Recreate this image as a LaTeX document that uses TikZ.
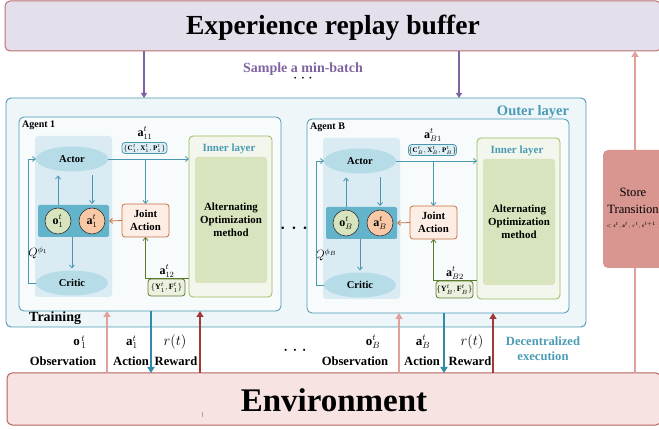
\documentclass[tikz,border=0pt]{standalone}
\usepackage{fontspec}
\setmainfont{Liberation Serif}
\usetikzlibrary{arrows.meta,calc,shapes.geometric}
\definecolor{bufFill}{HTML}{E5DFEC}
\definecolor{bufDraw}{HTML}{B87270}
\definecolor{purp}{HTML}{8064A2}
\definecolor{outerFill}{HTML}{EEF6FA}
\definecolor{tealc}{HTML}{4A98B0}
\definecolor{tealtxt}{HTML}{4A9BB5}
\definecolor{agentFill}{HTML}{F7FBFC}
\definecolor{panelFill}{HTML}{DAEBF3}
\definecolor{ellFill}{HTML}{B5DCE7}
\definecolor{rowFill}{HTML}{63B3CB}
\definecolor{oFill}{HTML}{D7E4BD}
\definecolor{aFill}{HTML}{F9C9A7}
\definecolor{jointFill}{HTML}{FCEDE5}
\definecolor{jointDraw}{HTML}{C8703C}
\definecolor{innerDraw}{HTML}{9BBB59}
\definecolor{innerFill}{HTML}{F2F6EC}
\definecolor{greenFill}{HTML}{D7E4BD}
\definecolor{cboxFill}{HTML}{DDEFF5}
\definecolor{yDraw}{HTML}{5C7A2E}
\definecolor{yFill}{HTML}{EBF1DE}
\definecolor{envFill}{HTML}{F6E3E2}
\definecolor{envDraw}{HTML}{B8605E}
\definecolor{obsc}{HTML}{E0A09B}
\definecolor{actc}{HTML}{2F8BA6}
\definecolor{rewc}{HTML}{A33A3A}
\definecolor{storeFill}{HTML}{D9958F}
\newcommand{\myfs}[1]{\fontsize{#1}{#1}\selectfont}
\tikzset{
 bx/.style={inner sep=0pt, outer sep=0pt},
 buf/.style={bx, draw=bufDraw, fill=bufFill, line width=1pt, rounded corners=5pt, minimum width=656pt, minimum height=50pt},
 envbox/.style={bx, draw=envDraw, fill=envFill, line width=1pt, rounded corners=5pt, minimum width=654pt, minimum height=52pt},
 outerbox/.style={bx, draw=tealc, fill=outerFill, line width=0.9pt, rounded corners=5pt, minimum width=580pt, minimum height=229pt},
 agentbox/.style={bx, draw=tealc, fill=agentFill, line width=0.8pt, rounded corners=5pt, minimum width=262pt, minimum height=194pt},
 panel/.style={bx, fill=panelFill, rounded corners=3pt, minimum width=77pt, minimum height=161pt},
 ellbox/.style={ellipse, fill=ellFill, minimum width=72pt, minimum height=25pt, inner sep=0pt, outer sep=0pt, font=\bfseries\myfs{10.5}},
 rowbox/.style={bx, fill=rowFill, rounded corners=2pt, minimum width=71pt, minimum height=32pt},
 circ/.style={circle, draw=black!80, line width=0.6pt, minimum size=26pt, inner sep=0pt, font=\myfs{12}},
 joint/.style={bx, draw=jointDraw, fill=jointFill, line width=0.8pt, rounded corners=3pt, minimum width=47pt, minimum height=33pt, align=center, font=\bfseries\fontsize{10.8}{13}\selectfont},
 innerbox/.style={bx, draw=innerDraw, fill=innerFill, line width=0.8pt, rounded corners=4pt, minimum width=83pt, minimum height=161pt},
 greenbox/.style={bx, fill=greenFill, rounded corners=3pt, minimum width=72pt, minimum height=126pt, align=center, font=\bfseries\fontsize{10.9}{13}\selectfont},
 cbox/.style={bx, draw=tealc, fill=cboxFill, line width=0.8pt, rounded corners=3pt, minimum width=45pt, minimum height=11pt, font=\myfs{7}},
 ybox/.style={bx, draw=yDraw, fill=yFill, line width=0.8pt, rounded corners=3pt, minimum width=37pt, minimum height=17pt, font=\myfs{8}},
 storebox/.style={bx, fill=storeFill, rounded corners=5pt, minimum width=68pt, minimum height=118pt},
 tealtext/.style={text=tealtxt, inner sep=0pt, font=\bfseries\myfs{11}},
 lab/.style={inner sep=0pt, font=\myfs{12}},
 blab/.style={inner sep=0pt, font=\bfseries\myfs{12.6}},
 tarr/.style={draw=tealc, line width=0.8pt, -{Straight Barb[length=3pt,width=5pt]}},
 jarr/.style={draw=jointDraw, line width=0.8pt, -{Straight Barb[length=3pt,width=5pt]}},
 yarr/.style={draw=yDraw, line width=0.8pt, -{Straight Barb[length=3pt,width=5pt]}},
 parr/.style={draw=purp, line width=1.6pt, -{Triangle[length=5pt,width=6pt]}},
 obsarr/.style={draw=obsc, line width=2pt, -{Triangle[length=6pt,width=7pt]}},
 actarr/.style={draw=actc, line width=2.3pt, -{Triangle[length=6pt,width=7pt]}},
 rewarr/.style={draw=rewc, line width=2.3pt, -{Triangle[length=6pt,width=7pt]}},
 storearr/.style={draw=obsc, line width=1.8pt, -{Triangle[length=6pt,width=7pt]}},
}
\newcommand{\myagent}[4]{%
\begin{scope}[shift={(#2,#3)}]
\node[agentbox] (#1box) at (150,214) {};
\node[anchor=west, inner sep=0pt, font=\bfseries\myfs{10}] (#1title) at (22,125) {Agent #4};
\node[panel] (#1panel) at (73.5,216.5) {};
\node[ellbox] (#1actor) at (72,159) {Actor};
\node[ellbox] (#1critic) at (72,283) {Critic};
\node[rowbox] (#1row) at (73.5,221) {};
\node[circ, fill=oFill] (#1o) at (58,221) {$\mathbf{o}^t_{#4}$};
\node[circ, fill=aFill] (#1a) at (92,221) {$\mathbf{a}^t_{#4}$};
\node[joint] (#1joint) at (145.5,220.5) {Joint\\Action};
\node[innerbox] (#1inner) at (230.5,216.5) {};
\node[tealtext] (#1innerlab) at (229,149) {Inner layer};
\node[greenbox] (#1alt) at (231,220) {Alternating\\Optimization\\method};
\node[lab] (#1a11) at (145,133) {$\mathbf{a}^t_{#41}$};
\node[cbox] (#1cb) at (144.5,148) {$\{\mathbf{C}^t_{#4},\mathbf{X}^t_{#4},\mathbf{P}^t_{#4}\}$};
\node[lab] (#1a12) at (167,271) {$\mathbf{a}^t_{#42}$};
\node[ybox] (#1yb) at (166.5,287.5) {$\{\mathbf{Y}^t_{#4},\mathbf{F}^t_{#4}\}$};
\node[lab] (#1q) at (38,253) {$Q^{\phi_{#4}}$};
\coordinate (#1a12s) at (189,278);
\draw[tarr] (#1actor.east) -- (#1actor.east -| #1inner.west);
\draw[tarr] (#1joint.north |- #1actor.east) -- (#1joint.north);
\draw[yarr] (#1a12s) -| (#1joint.south);
\draw[jarr] (#1joint.west) -- (#1row.east);
\draw[tarr, shorten >=4pt] (#1o.north |- #1row.north) -- (#1o.north |- #1actor.south);
\draw[tarr, shorten <=4pt, shorten >=1pt] (#1a.north |- #1actor.south) -- (#1a.north |- #1row.north);
\draw[tarr, shorten >=2pt] (#1critic.north |- #1row.south) -- (#1critic.north);
\draw[tarr] (#1critic.west) -- ++(-8,0) |- (#1actor.west);
\end{scope}}
\begin{document}
\begin{tikzpicture}[x=1pt,y=-1pt]
\useasboundingbox (0,0) rectangle (659,430);
% right store line (behind)
\coordinate (sx) at (635,0);
% buffer and environment
\node[buf] (buf) at (333,26) {};
\node[anchor=base, inner sep=0pt, font=\bfseries\myfs{27.6}] (buftxt) at (333,35) {Experience replay buffer};
\node[envbox] (env) at (334,399) {};
\node[anchor=base, inner sep=0pt, font=\bfseries\myfs{33}] (envtxt) at (334,412) {Environment};
\draw[line width=0.4pt, black!35] (202,412) -- (202,417);
\draw[storearr] (env.north -| sx) -- (buf.south -| sx);
\node[storebox] (store) at (637,209) {};
\node[inner sep=0pt, align=center, font=\fontsize{12.6}{17}\selectfont] (storetxt) at (633,201) {Store\\Transition};
\node[inner sep=0pt, anchor=west, font=\myfs{5}] (tuple) at (606,225) {$<\mathbf{s}^t,\mathbf{a}^t,r^t,\mathbf{s}^{t+1}>$};
% outer layer
\node[outerbox] (outer) at (296,212.5) {};
\node[tealtext, font=\bfseries\myfs{14.5}] (outerlab) at (533,112) {Outer layer};
\coordinate (px1) at (144,0);
\coordinate (px2) at (459,0);
\draw[parr] (buf.south -| px1) -- (outer.north -| px1);
\draw[parr] (buf.south -| px2) -- (outer.north -| px2);
\node[inner sep=0pt, text=purp, font=\bfseries\myfs{14}] (sample) at (303,69) {Sample a min-batch};
\node[inner sep=0pt, font=\myfs{18}] (dtop) at (303,79) {$\cdots$};
% agents
\myagent{A1}{0}{0}{1}
\myagent{AB}{288}{2}{B}
\node[inner sep=0pt, font=\myfs{24}] (dmid) at (294,229) {$\cdots$};
\node[inner sep=0pt, anchor=west, font=\bfseries\myfs{14}] (training) at (29,318) {Training};
% bottom arrows
\coordinate (ox1) at (107,0);
\coordinate (ax1) at (151,0);
\coordinate (rx1) at (200,0);
\coordinate (oxB) at (399,0);
\coordinate (axB) at (444,0);
\coordinate (rxB) at (493,0);
\draw[obsarr] (env.north -| ox1) -- (A1box.south -| ox1);
\draw[actarr] (A1box.south -| ax1) -- (env.north -| ax1);
\draw[rewarr] (env.north -| rx1) -- (A1box.south -| rx1);
\draw[obsarr] (env.north -| oxB) -- (ABbox.south -| oxB);
\draw[actarr] (ABbox.south -| axB) -- (env.north -| axB);
\draw[rewarr] (env.north -| rxB) -- (ABbox.south -| rxB);
% bottom labels
\node[lab, font=\myfs{13}] (o1l) at (80,342) {$\mathbf{o}^{\,t}_{\,1}$};
\node[blab] (obs1) at (63,361) {Observation};
\node[lab, font=\myfs{13}] (a1l) at (132,342) {$\mathbf{a}^t_1$};
\node[blab] (act1) at (131,361) {Action};
\node[lab, font=\myfs{14}] (r1l) at (175,342) {$r(t)$};
\node[blab] (rew1) at (176,361) {Reward};
\node[lab, font=\myfs{13}] (oBl) at (373,342) {$\mathbf{o}^t_B$};
\node[blab] (obsB) at (355,361) {Observation};
\node[lab, font=\myfs{13}] (aBl) at (423,342) {$\mathbf{a}^t_B$};
\node[blab] (actB) at (422,361) {Action};
\node[lab, font=\myfs{14}] (rBl) at (472,342) {$r(t)$};
\node[blab] (rewB) at (470,361) {Reward};
\node[inner sep=0pt, font=\myfs{22}] (dbot) at (295,351) {$\cdots$};
\node[inner sep=0pt, align=center, text=tealtxt, font=\bfseries\fontsize{12.6}{15}\selectfont] (decent) at (543,349) {Decentralized\\execution};
\end{tikzpicture}
\end{document}
